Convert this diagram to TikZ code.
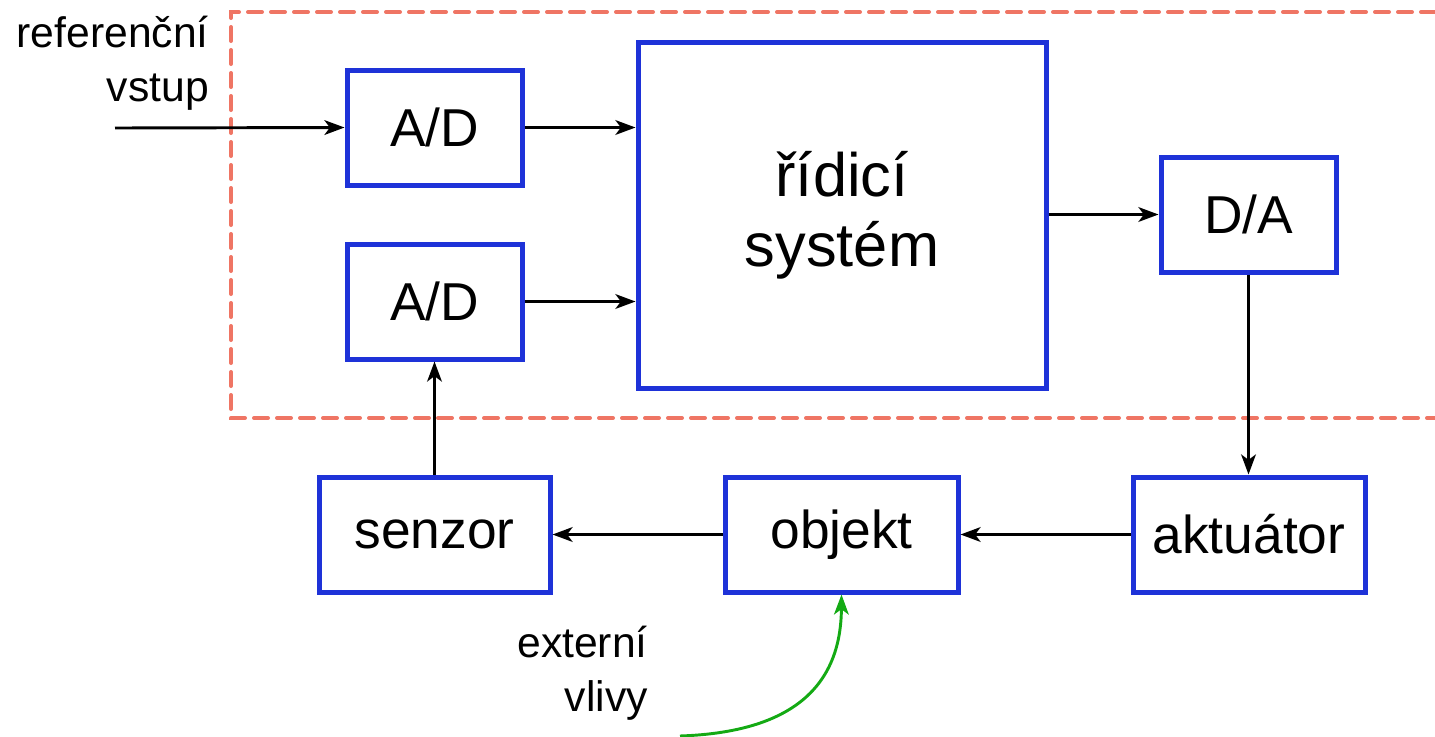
\documentclass[tikz,border=0pt]{standalone}
\usepackage{fontspec}
\setmainfont{Liberation Sans}
\usetikzlibrary{arrows.meta}
\definecolor{boxblue}{RGB}{30,50,216}
\definecolor{salmon}{RGB}{239,117,100}
\definecolor{grn}{RGB}{20,170,20}
\tikzset{
  blk/.style={draw=boxblue, line width=3.75pt, inner sep=0pt, minimum height=86.25pt, minimum width=131.25pt, font=\fontsize{40}{48}\selectfont, align=center},
  conn/.style={line width=2.2pt, -{Stealth[length=15pt, width=11pt, inset=4pt]}},
  lbl/.style={font=\fontsize{32}{40.5}\selectfont, align=right, inner sep=0pt},
}
\begin{document}
\begin{tikzpicture}[x=0.75pt, y=-0.75pt]
\useasboundingbox (0,0) rectangle (1435,736);
% dashed region
\draw[salmon, line width=3pt, line cap=round, dash pattern=on 10.5pt off 6.75pt]
  (1435,12) -- (231,12) -- (231,418) -- (1435,418);
% blocks
\node[blk] (ad1) at (434.5,127.5) {A/D};
\node[blk] (ad2) at (434.5,301.5) {A/D};
\node[blk, minimum width=306pt, minimum height=259.5pt, font=\fontsize{46}{52.5}\selectfont] (rs) at (842,215) {řídicí\\systém};
\node[blk] (da) at (1248.5,214.5) {D/A};
\node[blk, minimum width=173.25pt] (sen) at (434.5,534.5) {senzor};
\node[blk, minimum width=174.75pt] (obj) at (841.5,534.5) {objekt};
\node[blk, minimum width=174pt] (akt) at (1249,534.5) {aktuátor};
% labels
\node[lbl, anchor=north east] (ref) at (209,16) {referenční\\vstup};
\node[lbl, anchor=north east] (ext) at (648,626) {externí\\vlivy};
\coordinate (refin) at (115,128);
\coordinate (extin) at (680,736);
% connectors
\draw[conn] (refin) -- (ad1.west);
\draw[conn] (ad1.east) -- (ad1.east -| rs.west);
\draw[conn] (ad2.east) -- (ad2.east -| rs.west);
\draw[conn] (rs.east |- da.west) -- (da.west);
\draw[conn] (da.south) -- (da.south |- akt.north);
\draw[conn] (akt.west) -- (obj.east);
\draw[conn] (obj.west) -- (sen.east);
\draw[conn] (sen.north) -- (ad2.south);
\draw[grn, line width=2.2pt, -{Stealth[length=15pt, width=11pt, inset=4pt]}]
  (extin) .. controls (800,732) and (841,680) .. (obj.south);
\end{tikzpicture}
\end{document}
